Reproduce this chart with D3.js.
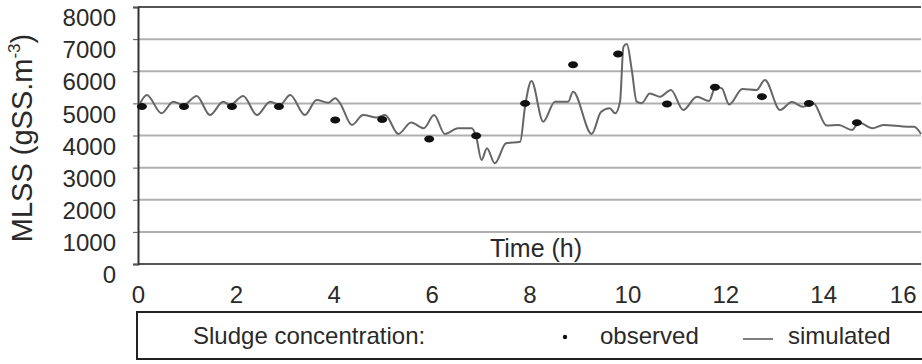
<!DOCTYPE html>
<html>
<head>
<meta charset="utf-8">
<script src="https://cdn.jsdelivr.net/npm/d3@7"></script>
<style>
  html, body { margin: 0; padding: 0; background: #fff; }
  svg { display: block; font-family: "Liberation Sans", Arial, sans-serif; }
</style>
</head>
<body>
<div id="chart"></div>
<script>
// observed sludge concentration (time in h, gSS/m3)
const obsTime = [0.08, 0.94, 1.92, 2.88, 4.03, 4.99, 5.95, 6.91, 7.91, 8.89, 9.81, 10.81, 11.79, 12.75, 13.71, 14.69];
const obsValue = [4900, 4900, 4900, 4900, 4480, 4500, 3890, 3990, 5000, 6200, 6540, 4980, 5500, 5210, 5000, 4400];

// simulated curve
const simTime = [0.01, 0.18, 0.48, 0.72, 0.93, 1.20, 1.47, 1.74, 1.88, 2.15, 2.43, 2.70, 2.90, 3.11, 3.41, 3.65,
  3.89, 4.03, 4.13, 4.37, 4.60, 4.88, 5.05, 5.32, 5.58, 5.84, 6.05, 6.27, 6.54, 6.82, 6.91, 7.02,
  7.13, 7.29, 7.52, 7.81, 7.91, 8.04, 8.28, 8.52, 8.79, 8.89, 9.27, 9.46, 9.64, 9.75, 9.85, 9.92,
  9.99, 10.09, 10.19, 10.29, 10.46, 10.67, 10.89, 11.14, 11.42, 11.67, 11.80, 11.93, 12.08, 12.35,
  12.64, 12.81, 13.12, 13.36, 13.59, 13.80, 14.07, 14.32, 14.59, 14.73, 15.01, 15.23, 15.73, 15.86, 16.00];
const simValue = [4897, 5261, 4691, 5052, 4950, 5230, 4638, 5052, 4950, 5230, 4638, 5052, 4950, 5261, 4638, 5105,
  5021, 5158, 5003, 4327, 4638, 4561, 4638, 4047, 4405, 4224, 4638, 4047, 4224, 4224, 3963, 3238,
  3602, 3135, 3757, 3807, 4918, 5697, 4430, 5052, 5052, 5364, 4047, 4732, 4847, 4691, 5052, 6765,
  6849, 6039, 5052, 5003, 5308, 5208, 5417, 4794, 5208, 5074, 5519, 5470, 4965, 5448,
  5417, 5728, 4794, 5043, 4897, 5003, 4312, 4327, 4171, 4405, 4224, 4327, 4274, 4274, 4047];

const yTicks = [0, 1000, 2000, 3000, 4000, 5000, 6000, 7000, 8000];
const xTicks = [0, 2, 4, 6, 8, 10, 12, 14, 16];

const width = 922, height = 364;
const margin = { top: 7, right: 1, bottom: 100, left: 138 };

const svg = d3.select('#chart').append('svg')
  .attr('width', width)
  .attr('height', height);

const x = d3.scaleLinear().domain([0, 16]).range([margin.left, width - margin.right]);
const y = d3.scaleLinear().domain([0, 8000]).range([height - margin.bottom, margin.top]);

// gridlines
svg.append('g')
  .selectAll('line')
  .data(yTicks.filter(d => d > 0 && d < 8000))
  .join('line')
  .attr('x1', x(0)).attr('x2', x(16))
  .attr('y1', d => y(d)).attr('y2', d => y(d))
  .attr('stroke', '#b0b0b0')
  .attr('stroke-width', 2);

// frame
svg.append('line')
  .attr('x1', x(0)).attr('x2', x(16)).attr('y1', y(8000)).attr('y2', y(8000))
  .attr('stroke', '#555').attr('stroke-width', 2);
svg.append('line')
  .attr('x1', x(0)).attr('x2', x(16)).attr('y1', y(0)).attr('y2', y(0))
  .attr('stroke', '#555').attr('stroke-width', 2);

// y axis
const yAxis = svg.append('g')
  .attr('transform', `translate(${x(0)},0)`)
  .call(d3.axisLeft(y).tickValues(yTicks).tickSize(5).tickPadding(17).tickFormat(d3.format('d')));
yAxis.select('.domain').attr('stroke', '#333').attr('stroke-width', 2);
yAxis.selectAll('.tick line').attr('stroke', '#555');
yAxis.selectAll('text')
  .attr('font-size', 24)
  .attr('fill', '#2a2a2a')
  .attr('dy', '0.78em')
  .attr('font-family', '"Liberation Sans", Arial, sans-serif');

// x axis labels
const xAxis = svg.append('g')
  .attr('transform', `translate(0,${y(0)})`)
  .call(d3.axisBottom(x).tickValues(xTicks).tickSize(0).tickPadding(22));
xAxis.select('.domain').remove();
xAxis.selectAll('text')
  .attr('font-size', 24)
  .attr('fill', '#2a2a2a')
  .attr('font-family', '"Liberation Sans", Arial, sans-serif');
// last label sits inside the right edge
xAxis.selectAll('.tick').filter(d => d === 16).select('text')
  .attr('text-anchor', 'end')
  .attr('dx', -5);

// simulated line
const simData = simTime.map((t, i) => ({ t, v: simValue[i] }));
const line = d3.line()
  .x(d => x(d.t))
  .y(d => y(d.v))
  .curve(d3.curveMonotoneX);

svg.append('path')
  .datum(simData)
  .attr('fill', 'none')
  .attr('stroke', '#666')
  .attr('stroke-width', 2)
  .attr('d', line);

// observed points
svg.append('g')
  .selectAll('ellipse')
  .data(obsTime.map((t, i) => ({ t, v: obsValue[i] })))
  .join('ellipse')
  .attr('cx', d => x(d.t))
  .attr('cy', d => y(d.v))
  .attr('rx', 5)
  .attr('ry', 3.5)
  .attr('fill', '#111');

// axis titles
svg.append('text')
  .attr('x', 536)
  .attr('y', 248)
  .attr('dy', '0.35em')
  .attr('text-anchor', 'middle')
  .attr('font-size', 25)
  .attr('fill', '#2a2a2a')
  .text('Time (h)');

const yTitle = svg.append('text')
  .attr('transform', 'translate(32,138) rotate(-90)')
  .attr('text-anchor', 'middle')
  .attr('font-size', 29)
  .attr('fill', '#2a2a2a');
yTitle.append('tspan').text('MLSS (gSS.m');
yTitle.append('tspan').attr('font-size', 17).attr('dy', -12).text('-3');
yTitle.append('tspan').attr('dy', 12).text(')');

// legend
const legend = svg.append('g');
legend.append('rect')
  .attr('x', 137).attr('y', 312)
  .attr('width', 800).attr('height', 47)
  .attr('fill', '#fff')
  .attr('stroke', '#222')
  .attr('stroke-width', 2);
legend.append('text')
  .attr('x', 193).attr('y', 344)
  .attr('font-size', 24).attr('fill', '#2a2a2a')
  .text('Sludge concentration:');
legend.append('circle')
  .attr('cx', 565).attr('cy', 337).attr('r', 2.2).attr('fill', '#111');
legend.append('text')
  .attr('x', 600).attr('y', 344)
  .attr('font-size', 24).attr('fill', '#2a2a2a')
  .text('observed');
legend.append('line')
  .attr('x1', 743).attr('x2', 773).attr('y1', 339).attr('y2', 339)
  .attr('stroke', '#555').attr('stroke-width', 1.5);
legend.append('text')
  .attr('x', 788).attr('y', 344)
  .attr('font-size', 24).attr('fill', '#2a2a2a')
  .text('simulated');
</script>
</body>
</html>
